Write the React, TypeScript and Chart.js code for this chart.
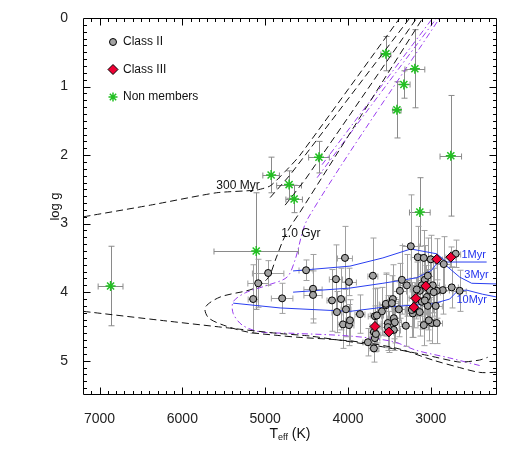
import React, { useEffect, useRef } from "react";
import { Chart, registerables } from "chart.js";
Chart.register(...registerables);

// ---------- axis ticks ----------
const X_TICKS = [7000, 6000, 5000, 4000, 3000];
const Y_TICKS = [0, 1, 2, 3, 4, 5];

// ---------- Class II ----------
const class2Teff = [5145,5084,4964,4795,4506,4422,4422,4145,4036,3988,4193,4084,4133,4024,3855,3699,4060,3988,3976,3675,3590,3542,3687,3675,3759,3687,3241,3157,3084,3000,2843,2699,3349,3289,3373,3458,3542,3470,3386,3217,3651,3446,3434,3518,2988,2928,3084,3024,2747,2651,2855,2928,3072,3036,3108,2976,3012,3133,3048,3108,3036,3229,3133,3301,3663,3446,3518,3169,2964,3072,2940];
const class2Logg = [4.10,3.87,3.72,4.09,3.68,3.95,4.04,3.81,3.50,3.85,4.12,4.10,4.29,4.25,4.32,3.76,4.47,4.48,4.41,4.35,4.28,4.19,4.58,4.67,4.73,4.82,3.33,3.49,3.50,3.52,3.59,3.44,3.82,3.90,3.98,4.10,4.17,4.16,4.25,4.31,4.34,4.38,4.44,4.45,4.45,4.45,4.48,4.41,3.93,3.98,3.97,3.98,3.82,3.76,3.90,3.90,3.97,3.98,4.07,4.14,4.20,4.26,4.29,4.49,4.61,4.55,4.51,3.96,4.00,4.12,4.20];
const class2TeffErr = [60,125,190,130,85,110,110,80,90,90,60,50,60,60,60,60,60,60,50,80,80,70,60,60,60,60,100,80,80,80,80,60,100,100,80,80,80,80,80,80,80,80,80,80,70,70,70,70,80,80,80,80,80,80,80,80,80,80,80,80,80,80,80,80,60,80,80,80,80,80,80];
const class2LoggErr = [0.50,0.35,0.18,0.22,0.15,0.50,0.35,0.50,0.46,0.20,0.45,0.45,0.30,0.40,0.28,0.55,0.35,0.30,0.30,0.40,0.35,0.45,0.25,0.20,0.20,0.20,0.75,0.45,0.40,0.35,0.40,0.20,0.50,0.45,0.40,0.50,0.45,0.40,0.40,0.35,0.40,0.30,0.30,0.40,0.30,0.30,0.30,0.30,0.30,0.30,0.35,0.40,0.50,0.55,0.45,0.40,0.40,0.45,0.40,0.40,0.35,0.40,0.35,0.30,0.25,0.30,0.30,0.40,0.35,0.40,0.30];

// ---------- Class III ----------
const class3Teff = [2927,2758,3060,3180,3204,3674,3506];
const class3Logg = [3.52,3.49,3.91,4.09,4.22,4.50,4.58];
const class3TeffErr = [70,60,80,80,80,60,60];
const class3LoggErr = [0.30,0.15,0.30,0.30,0.30,0.30,0.30];

// ---------- Non members ----------
const nonMemTeff = [6867,5108,4928,4711,4650,4350,3542,3192,3325,3409,2758,3132];
const nonMemLogg = [3.91,3.40,2.29,2.43,2.64,2.03,0.52,0.74,0.97,1.34,2.01,2.83];
const nonMemTeffErr = [150,510,100,150,100,125,60,120,75,50,130,125];
const nonMemLoggErr = [0.58,0.85,0.26,0.20,0.20,0.23,0.25,0.57,0.20,0.41,0.88,0.50];

// ---------- young isochrones (blue) ----------
const iso1MyrTeff = [4663,3976,3578,3241,2928,2807,2325];
const iso1MyrLogg = [3.69,3.62,3.50,3.37,3.44,3.56,3.56];
const iso3MyrTeff = [4663,3976,3578,3169,2988,2916,2807,2651,2506,2205];
const iso3MyrLogg = [4.00,3.94,3.87,3.79,3.68,3.56,3.62,3.78,3.87,3.88];
const iso10MyrTeff = [5386,4819,3976,3578,2976,2771,2675,2566,2373,2205];
const iso10MyrLogg = [4.16,4.23,4.28,4.22,4.17,4.10,3.98,3.97,4.03,4.07];

// ---------- old isochrones (black dashed) ----------
const iso300MyrTeff = [7193,6386,5590,5108,4940,4759,4578,3373];
const iso300MyrLogg = [2.90,2.73,2.55,2.51,2.45,2.24,2.00,0.0];
const isoGiantATeff = [4940,4699,3253];
const isoGiantALogg = [2.62,2.29,0.0];
const isoGiantBTeff = [4759,4518,3169];
const isoGiantBLogg = [2.73,2.36,0.0];
const iso1GyrTeff = [2205,2410,2651,2976,3373,3771,4181,4578,4855,5217,5506,5687,5723,5542,5145,4964,4867,4783,4699,4578,3096];
const iso1GyrLogg = [5.17,5.17,5.10,4.99,4.83,4.74,4.69,4.66,4.63,4.58,4.48,4.37,4.22,4.07,3.95,3.79,3.50,3.24,3.05,2.83,0.0];
const isoDwarfTeff = [7193,6265,5458,4855,4458,3614,3048,2651,2410,2313];
const isoDwarfLogg = [4.28,4.41,4.52,4.60,4.64,4.79,4.92,5.02,4.99,4.95];

// ---------- purple dash-dot tracks ----------
const purpleATeff = [2410,2771,3169,3458,3976,4663,5060,5277,5386,5386,5241,4976,4735,4639,4482,2892];
const purpleALogg = [5.07,4.96,4.85,4.72,4.64,4.60,4.58,4.48,4.31,4.14,4.01,3.90,3.78,3.53,2.92,0.0];
const purpleBTeff = [4373,2928];
const purpleBLogg = [2.33,0.0];
const purpleCTeff = [4313,2976];
const purpleCLogg = [2.14,0.0];

// ---------- in-plot labels ----------
const labelTexts = ["300 Myr", "1.0 Gyr", "1Myr", "3Myr", "10Myr"];
const labelTeff = [5590, 4807, 2630, 2595, 2690];
const labelLogg = [2.45, 3.15, 3.46, 3.75, 4.12];
const labelColors = ["#111", "#111", "#2233ee", "#2233ee", "#2233ee"];

const legendLabels = ["Class II", "Class III", "Non members"];

const zip = (a: number[], b: number[]) => a.map((v, i) => ({ x: v, y: b[i] }));

const GRAY = "#a3a3a3";
const RED = "#ee0033";
const GREEN = "#22c022";
const BLUE = "#2a3ff0";
const PURPLE = "#9a3cf0";
const FONT = "'Liberation Sans', Arial, sans-serif";

function drawMarker(ctx: CanvasRenderingContext2D, kind: number, x: number, y: number) {
  ctx.save();
  if (kind === 0) {
    ctx.beginPath();
    ctx.arc(x, y, 3.5, 0, Math.PI * 2);
    ctx.fillStyle = GRAY; ctx.fill();
    ctx.strokeStyle = "#000"; ctx.lineWidth = 1; ctx.stroke();
  } else if (kind === 1) {
    ctx.beginPath();
    ctx.moveTo(x, y - 5); ctx.lineTo(x + 5, y); ctx.lineTo(x, y + 5); ctx.lineTo(x - 5, y); ctx.closePath();
    ctx.fillStyle = RED; ctx.fill();
    ctx.strokeStyle = "#000"; ctx.lineWidth = 1; ctx.stroke();
  } else {
    ctx.strokeStyle = GREEN; ctx.lineWidth = 1.5;
    ctx.beginPath();
    for (let k = 0; k < 4; k++) {
      const a = (k * Math.PI) / 4;
      ctx.moveTo(x - 4.5 * Math.cos(a), y - 4.5 * Math.sin(a));
      ctx.lineTo(x + 4.5 * Math.cos(a), y + 4.5 * Math.sin(a));
    }
    ctx.stroke();
  }
  ctx.restore();
}

const errorBarPlugin = {
  id: "errorBars",
  beforeDatasetsDraw(chart: any) {
    const { ctx, chartArea: a } = chart;
    const xs = chart.scales.x, ys = chart.scales.y;
    ctx.save();
    ctx.beginPath(); ctx.rect(a.left, a.top, a.right - a.left, a.bottom - a.top); ctx.clip();
    chart.data.datasets.forEach((ds: any) => {
      if (!ds.errX) return;
      ctx.strokeStyle = ds.errColor; ctx.lineWidth = 1;
      ds.data.forEach((p: any, i: number) => {
        const px = Math.round(xs.getPixelForValue(p.x)) + 0.5;
        const py = Math.round(ys.getPixelForValue(p.y)) + 0.5;
        const x1 = xs.getPixelForValue(p.x - ds.errX[i]);
        const x2 = xs.getPixelForValue(p.x + ds.errX[i]);
        const y1 = ys.getPixelForValue(p.y - ds.errY[i]);
        const y2 = ys.getPixelForValue(p.y + ds.errY[i]);
        const c = 3;
        ctx.beginPath();
        ctx.moveTo(x1, py); ctx.lineTo(x2, py);
        ctx.moveTo(x1, py - c); ctx.lineTo(x1, py + c);
        ctx.moveTo(x2, py - c); ctx.lineTo(x2, py + c);
        ctx.moveTo(px, y1); ctx.lineTo(px, y2);
        ctx.moveTo(px - c, y1); ctx.lineTo(px + c, y1);
        ctx.moveTo(px - c, y2); ctx.lineTo(px + c, y2);
        ctx.stroke();
      });
    });
    ctx.restore();
  },
};

const framePlugin = {
  id: "frameTicks",
  afterDatasetsDraw(chart: any) {
    const { ctx, chartArea: a } = chart;
    const xs = chart.scales.x, ys = chart.scales.y;
    ctx.save();
    ctx.strokeStyle = "#000"; ctx.lineWidth = 1;
    const L = Math.round(a.left) + 0.5, R = Math.round(a.right) - 0.5;
    const T = Math.round(a.top) + 0.5, B = Math.round(a.bottom) - 0.5;
    ctx.beginPath();
    ctx.rect(L, T, R - L, B - T);
    for (let v = 2300; v < 7200; v += 100) {
      const px = Math.round(xs.getPixelForValue(v)) + 0.5;
      const len = v % 1000 === 0 ? 7 : 3.5;
      ctx.moveTo(px, B); ctx.lineTo(px, B - len);
      ctx.moveTo(px, T); ctx.lineTo(px, T + len);
    }
    for (let i = 1; i < 55; i++) {
      const py = Math.round(ys.getPixelForValue(i / 10)) + 0.5;
      const len = i % 10 === 0 ? 7 : 3.5;
      ctx.moveTo(L, py); ctx.lineTo(L + len, py);
      ctx.moveTo(R, py); ctx.lineTo(R - len, py);
    }
    ctx.stroke();

    labelTexts.forEach((t, i) => {
      ctx.font = `${i < 2 ? 12 : 11}px ${FONT}`;
      ctx.fillStyle = labelColors[i];
      ctx.textAlign = "left"; ctx.textBaseline = "middle";
      ctx.fillText(t, xs.getPixelForValue(labelTeff[i]), ys.getPixelForValue(labelLogg[i]));
    });

    legendLabels.forEach((t, i) => {
      const lx = a.left + 30, ly = a.top + 24 + i * 27.5;
      drawMarker(ctx, i, lx, ly);
      ctx.font = `12px ${FONT}`;
      ctx.fillStyle = "#111"; ctx.textAlign = "left"; ctx.textBaseline = "middle";
      ctx.fillText(t, lx + 10, ly);
    });

    ctx.fillStyle = "#111";
    ctx.save();
    ctx.translate(a.left - 28, (a.top + a.bottom) / 2);
    ctx.rotate(-Math.PI / 2);
    ctx.font = `13px ${FONT}`; ctx.textAlign = "center"; ctx.textBaseline = "middle";
    ctx.fillText("log g", 0, 0);
    ctx.restore();

    const cx = (a.left + a.right) / 2, cy = a.bottom + 39;
    ctx.textBaseline = "middle"; ctx.textAlign = "left";
    ctx.font = `14px ${FONT}`;
    const wT = ctx.measureText("T").width;
    const wK = ctx.measureText(" (K)").width;
    ctx.font = `9px ${FONT}`;
    const wE = ctx.measureText("eff").width;
    let sx = cx - (wT + wE + wK) / 2;
    ctx.font = `14px ${FONT}`; ctx.fillText("T", sx, cy); sx += wT;
    ctx.font = `9px ${FONT}`; ctx.fillText("eff", sx, cy + 4); sx += wE;
    ctx.font = `14px ${FONT}`; ctx.fillText(" (K)", sx, cy);
    ctx.restore();
  },
};

export default function App() {
  const ref = useRef<HTMLCanvasElement>(null);
  useEffect(() => {
    const line = (tx: number[], ty: number[], color: string, dash: number[], tension = 0) => ({
      type: "line" as const,
      data: zip(tx, ty),
      borderColor: color,
      borderWidth: 1,
      borderDash: dash,
      pointRadius: 0,
      fill: false,
      tension,
      showLine: true,
    });
    const dashed = [7, 4];
    const dashDot = [6, 3, 1.5, 3];
    const chart = new Chart(ref.current as HTMLCanvasElement, {
      type: "scatter",
      data: {
        datasets: [
          {
            label: "Non members",
            data: zip(nonMemTeff, nonMemLogg),
            pointStyle: "star",
            pointRadius: 5,
            borderColor: GREEN,
            borderWidth: 1.5,
            backgroundColor: GREEN,
            errX: nonMemTeffErr, errY: nonMemLoggErr, errColor: "#8a8a8a",
          } as any,
          {
            label: "Class III",
            data: zip(class3Teff, class3Logg),
            pointStyle: "rectRot",
            pointRadius: 5,
            backgroundColor: RED,
            borderColor: "#000",
            borderWidth: 1,
            errX: class3TeffErr, errY: class3LoggErr, errColor: "#a0a0a0",
          } as any,
          {
            label: "Class II",
            data: zip(class2Teff, class2Logg),
            pointStyle: "circle",
            pointRadius: 3.5,
            backgroundColor: GRAY,
            borderColor: "#000",
            borderWidth: 1,
            errX: class2TeffErr, errY: class2LoggErr, errColor: "#a0a0a0",
          } as any,
          line(iso1MyrTeff, iso1MyrLogg, BLUE, []),
          line(iso3MyrTeff, iso3MyrLogg, BLUE, []),
          line(iso10MyrTeff, iso10MyrLogg, BLUE, []),
          line(iso300MyrTeff, iso300MyrLogg, "#111", dashed, 0.2),
          line(isoGiantATeff, isoGiantALogg, "#111", dashed),
          line(isoGiantBTeff, isoGiantBLogg, "#111", dashed),
          line(iso1GyrTeff, iso1GyrLogg, "#111", dashed, 0.3),
          line(isoDwarfTeff, isoDwarfLogg, "#111", dashed, 0.2),
          line(purpleATeff, purpleALogg, PURPLE, dashDot, 0.3),
          line(purpleBTeff, purpleBLogg, PURPLE, dashDot),
          line(purpleCTeff, purpleCLogg, PURPLE, dashDot),
        ],
      },
      options: {
        responsive: false,
        animation: false,
        devicePixelRatio: 1,
        layout: { padding: { top: 18, right: 21, left: 0, bottom: 0 } },
        plugins: { legend: { display: false }, tooltip: { enabled: false } },
        scales: {
          x: {
            type: "linear",
            reverse: true,
            min: 2200,
            max: 7200,
            grid: { display: false },
            border: { display: false },
            afterBuildTicks: (s: any) => { s.ticks = X_TICKS.map((v) => ({ value: v })); },
            afterFit: (s: any) => { s.height = 65; },
            ticks: {
              padding: 8,
              color: "#222",
              font: { family: FONT, size: 14 },
              callback: (v: any) => String(v),
              maxRotation: 0,
              autoSkip: false,
            },
          },
          y: {
            type: "linear",
            reverse: true,
            min: 0,
            max: 5.5,
            grid: { display: false },
            border: { display: false },
            afterBuildTicks: (s: any) => { s.ticks = Y_TICKS.map((v) => ({ value: v })); },
            afterFit: (s: any) => { s.width = 83; },
            ticks: {
              padding: 7,
              color: "#222",
              font: { family: FONT, size: 14 },
              callback: (v: any) => String(v),
              autoSkip: false,
            },
          },
        },
      } as any,
      plugins: [errorBarPlugin, framePlugin],
    });
    return () => chart.destroy();
  }, []);
  return (
    <div style={{ position: "absolute", left: 0, top: 0, width: 518, height: 460, background: "#fff" }}>
      <canvas ref={ref} width={518} height={460} style={{ width: 518, height: 460, display: "block" }} />
    </div>
  );
}
